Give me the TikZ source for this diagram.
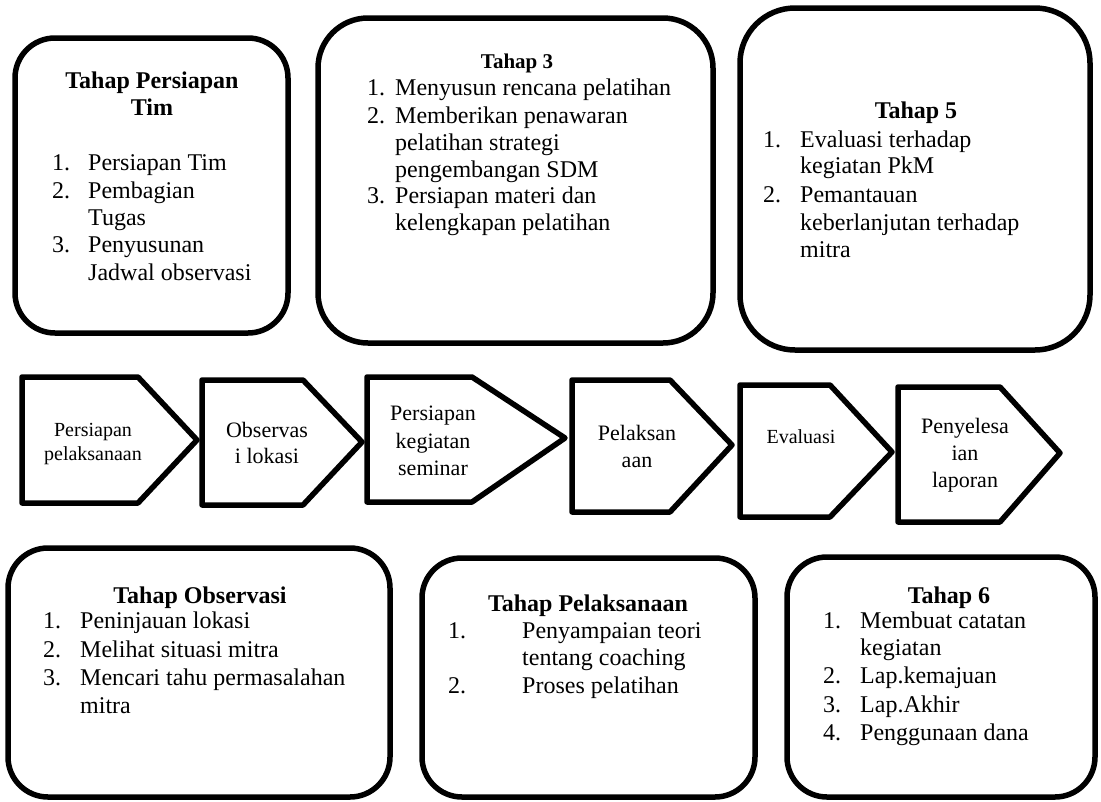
\documentclass[tikz,border=0pt]{standalone}
\usepackage{fontspec}
\setmainfont{Liberation Serif}
\begin{document}
\begin{tikzpicture}[x=1pt,y=-1pt,
  box/.style={draw, line width=5.5pt, rounded corners=40pt, inner sep=0pt},
  arr/.style={draw, line width=5.5pt, line join=round},
  t/.style={inner sep=0pt, anchor=base west, font=\fontsize{24}{27}\selectfont},
  ttl/.style={inner sep=0pt, anchor=base, font=\fontsize{24}{27}\selectfont\bfseries},
  arrtxt/.style={inner sep=0pt, anchor=base, font=\fontsize{22}{25}\selectfont},
  arrtxts/.style={inner sep=0pt, anchor=base, font=\fontsize{20}{24}\selectfont},
]
\useasboundingbox (0,0) rectangle (1101,801);

% ---------- top boxes ----------
\node[box, minimum width=273pt, minimum height=295pt] (b1) at (151.5,185.5) {};
\node[box, rounded corners=50pt, minimum width=395pt, minimum height=325pt] (b2) at (515.5,180.5) {};
\node[box, rounded corners=55pt, minimum width=350pt, minimum height=342pt] (b3) at (915,179) {};

% ---------- bottom boxes ----------
\node[box, minimum width=382pt, minimum height=249pt] (b4) at (199,672.5) {};
\node[box, minimum width=333pt, minimum height=239pt] (b5) at (588.5,677.5) {};
\node[box, minimum width=308pt, minimum height=240pt] (b6) at (941,677) {};

% ---------- arrows ----------
\draw[arr] (22,377) -- (138,377) -- (197,440) -- (138,503) -- (22,503) -- cycle;
\draw[arr] (202,380) -- (303,380) -- (362,442) -- (303,505) -- (202,505) -- cycle;
\draw[arr] (367,377) -- (472,377) -- (565,438) -- (472,502) -- (367,502) -- cycle;
\draw[arr] (572,380) -- (670,380) -- (732,445) -- (670,512) -- (572,512) -- cycle;
\draw[arr] (740,385) -- (830,385) -- (892,452) -- (830,517) -- (740,517) -- cycle;
\draw[arr] (898,387) -- (1000,387) -- (1060,453) -- (1000,522) -- (898,522) -- cycle;

% arrow texts
\node[arrtxts] (a1l1) at (93,436) {Persiapan};
\node[arrtxts] (a1l2) at (93,460) {pelaksanaan};
\node[arrtxt] (a2l1) at (267,437) {Observas};
\node[arrtxt] (a2l2) at (267,463) {i lokasi};
\node[arrtxt] (a3l1) at (433,420) {Persiapan};
\node[arrtxt] (a3l2) at (433,448) {kegiatan};
\node[arrtxt] (a3l3) at (433,475) {seminar};
\node[arrtxt] (a4l1) at (637,440) {Pelaksan};
\node[arrtxt] (a4l2) at (637,467) {aan};
\node[arrtxts] (a5l1) at (801,443) {Evaluasi};
\node[arrtxt] (a6l1) at (965,433) {Penyelesa};
\node[arrtxt] (a6l2) at (965,460) {ian};
\node[arrtxt] (a6l3) at (965,487) {laporan};

% ---------- box 1 text ----------
\node[ttl] (b1h1) at (152,88) {Tahap Persiapan};
\node[ttl] (b1h2) at (152,115) {Tim};
\node[t] (b1n1) at (52,170) {1.}; \node[t] (b1i1) at (88,170) {Persiapan Tim};
\node[t] (b1n2) at (52,198) {2.}; \node[t] (b1i2) at (88,198) {Pembagian};
\node[t] (b1i2b) at (88,225) {Tugas};
\node[t] (b1n3) at (52,252) {3.}; \node[t] (b1i3) at (88,252) {Penyusunan};
\node[t] (b1i3b) at (88,280) {Jadwal observasi};

% ---------- box 2 text ----------
\node[ttl, font=\fontsize{21}{24}\selectfont\bfseries] (b2h) at (517,68) {Tahap 3};
\node[t] (b2n1) at (367,95) {1.}; \node[t] (b2i1) at (395,95) {Menyusun rencana pelatihan};
\node[t] (b2n2) at (367,123) {2.}; \node[t] (b2i2) at (395,123) {Memberikan penawaran};
\node[t] (b2i2b) at (395,150) {pelatihan strategi};
\node[t] (b2i2c) at (395,177) {pengembangan SDM};
\node[t] (b2n3) at (367,203) {3.}; \node[t] (b2i3) at (395,203) {Persiapan materi dan};
\node[t] (b2i3b) at (395,230) {kelengkapan pelatihan};

% ---------- box 3 text ----------
\node[ttl] (b3h) at (916,118) {Tahap 5};
\node[t] (b3n1) at (763,147) {1.}; \node[t] (b3i1) at (800,147) {Evaluasi terhadap};
\node[t] (b3i1b) at (800,173) {kegiatan PkM};
\node[t] (b3n2) at (763,202) {2.}; \node[t] (b3i2) at (800,202) {Pemantauan};
\node[t] (b3i2b) at (800,230) {keberlanjutan terhadap};
\node[t] (b3i2c) at (800,257) {mitra};

% ---------- box 4 text ----------
\node[ttl] (b4h) at (200,603) {Tahap Observasi};
\node[t] (b4n1) at (43,628) {1.}; \node[t] (b4i1) at (80,628) {Peninjauan lokasi};
\node[t] (b4n2) at (43,657) {2.}; \node[t] (b4i2) at (80,657) {Melihat situasi mitra};
\node[t] (b4n3) at (43,685) {3.}; \node[t] (b4i3) at (80,685) {Mencari tahu permasalahan};
\node[t] (b4i3b) at (80,713) {mitra};

% ---------- box 5 text ----------
\node[ttl] (b5h) at (588,611) {Tahap Pelaksanaan};
\node[t] (b5n1) at (448,638) {1.}; \node[t] (b5i1) at (522,638) {Penyampaian teori};
\node[t] (b5i1b) at (522,665) {tentang coaching};
\node[t] (b5n2) at (448,693) {2.}; \node[t] (b5i2) at (522,693) {Proses pelatihan};

% ---------- box 6 text ----------
\node[ttl] (b6h) at (949,603) {Tahap 6};
\node[t] (b6n1) at (823,628) {1.}; \node[t] (b6i1) at (860,628) {Membuat catatan};
\node[t] (b6i1b) at (860,655) {kegiatan};
\node[t] (b6n2) at (823,683) {2.}; \node[t] (b6i2) at (860,683) {Lap.kemajuan};
\node[t] (b6n3) at (823,712) {3.}; \node[t] (b6i3) at (860,712) {Lap.Akhir};
\node[t] (b6n4) at (823,740) {4.}; \node[t] (b6i4) at (860,740) {Penggunaan dana};
\end{tikzpicture}
\end{document}
